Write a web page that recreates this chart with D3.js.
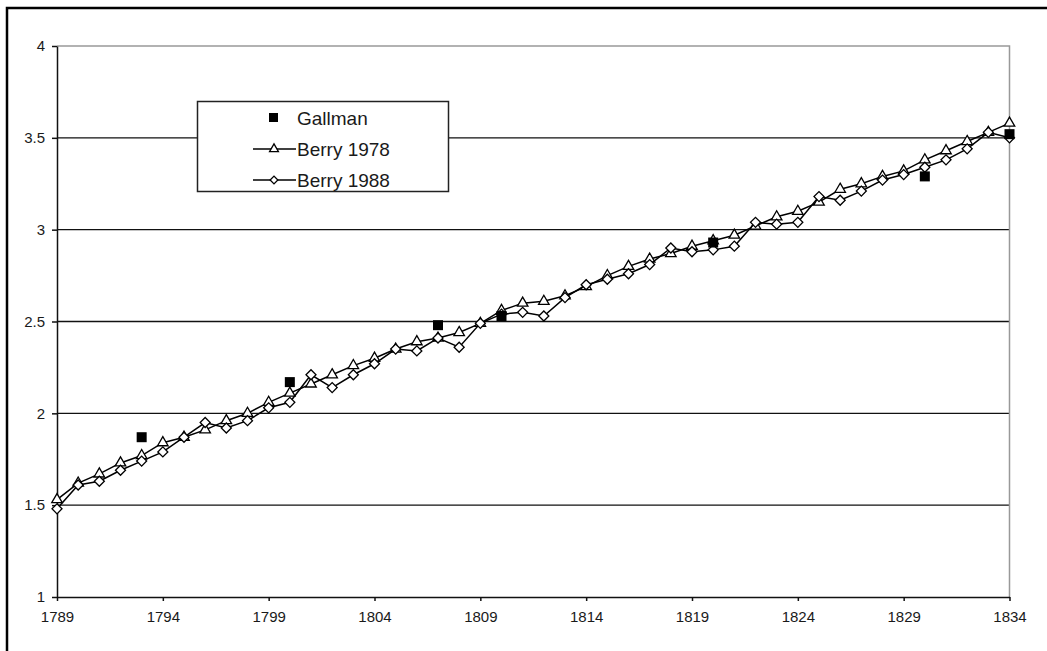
<!DOCTYPE html>
<meta charset="utf-8">
<style>
  body { margin: 0; background: #fff; }
  text { font-family: "Liberation Sans", Arial, sans-serif; fill: #1a1a1a; }
  .grid line { stroke: #111; stroke-width: 1.3px; }
  .axis path, .axis line { stroke: #111; stroke-width: 1.5px; }
  .legend text { font-size: 19px; }
</style>
<body>
<div id="chart"></div>
<script src="https://d3js.org/d3.v7.min.js"></script>
<script>

var years = d3.range(1789, 1835);

var berry1978 = [1.53, 1.62, 1.67, 1.73, 1.77, 1.84, 1.87, 1.91, 1.96, 2.00,
  2.06, 2.11, 2.16, 2.21, 2.26, 2.30, 2.35, 2.39, 2.41, 2.44,
  2.49, 2.56, 2.60, 2.61, 2.64, 2.69, 2.75, 2.80, 2.84, 2.87,
  2.91, 2.94, 2.97, 3.02, 3.07, 3.10, 3.15, 3.22, 3.25, 3.29,
  3.32, 3.38, 3.43, 3.48, 3.53, 3.58];

var berry1988 = [1.48, 1.61, 1.63, 1.69, 1.74, 1.79, 1.87, 1.95, 1.92, 1.96,
  2.03, 2.06, 2.21, 2.14, 2.21, 2.27, 2.35, 2.34, 2.41, 2.36,
  2.49, 2.54, 2.55, 2.53, 2.63, 2.70, 2.73, 2.76, 2.81, 2.90,
  2.88, 2.89, 2.91, 3.04, 3.03, 3.04, 3.18, 3.16, 3.21, 3.27,
  3.30, 3.34, 3.38, 3.44, 3.53, 3.50];

var gallmanYears = [1793, 1800, 1807, 1810, 1820, 1830, 1834];
var gallman = [1.87, 2.17, 2.48, 2.53, 2.93, 3.29, 3.52];

var xTicks = [1789, 1794, 1799, 1804, 1809, 1814, 1819, 1824, 1829, 1834];
var yTicks = [1, 1.5, 2, 2.5, 3, 3.5, 4];

var seriesNames = ["Gallman", "Berry 1978", "Berry 1988"];

var w = 1047, h = 651;

var svg = d3.select("#chart").append("svg")
  .attr("width", w)
  .attr("height", h);

// frame, only left and top are in the picture
svg.append("path")
  .attr("d", "M7,651V8H1047")
  .attr("fill", "none")
  .attr("stroke", "#000")
  .attr("stroke-width", 2.5);

var x = d3.scaleLinear().domain([1789, 1834]).range([57, 1009.5]);
var y = d3.scaleLinear().domain([1, 4]).range([597, 46]);

svg.append("g")
  .attr("class", "grid")
  .selectAll("line")
  .data(yTicks.slice(1, -1))
  .enter().append("line")
  .attr("x1", x(1789))
  .attr("x2", x(1834))
  .attr("y1", function (d) { return y(d); })
  .attr("y2", function (d) { return y(d); });

// plot area border (grey)
svg.append("path")
  .attr("d", "M" + x(1789) + "," + y(4) + "H" + x(1834) + "V" + y(1))
  .attr("fill", "none")
  .attr("stroke", "#999")
  .attr("stroke-width", 1.5);

svg.append("g")
  .attr("class", "axis")
  .attr("transform", "translate(0," + y(1) + ")")
  .call(d3.axisBottom(x).tickValues(xTicks).tickFormat(d3.format("d"))
    .tickSize(4).tickSizeOuter(0).tickPadding(10));

svg.append("g")
  .attr("class", "axis")
  .attr("transform", "translate(" + x(1789) + ",0)")
  .call(d3.axisLeft(y).tickValues(yTicks).tickFormat(d3.format("")).tickSize(5).tickSizeOuter(0).tickPadding(7));

svg.selectAll(".axis")
  .attr("font-size", 15)
  .attr("font-family", "Liberation Sans, Arial, sans-serif");

var line = d3.line()
  .x(function (d, i) { return x(years[i]); })
  .y(function (d) { return y(d); });

var tri = d3.symbol().type(d3.symbolTriangle).size(48);
var dia = d3.symbol().type(d3.symbolSquare).size(50);

function drawSeries(vals, sym, rot) {
  svg.append("path")
    .datum(vals)
    .attr("d", line)
    .attr("fill", "none")
    .attr("stroke", "#000")
    .attr("stroke-width", 1.5);
  svg.append("g").selectAll("path")
    .data(vals)
    .enter().append("path")
    .attr("d", sym)
    .attr("transform", function (d, i) {
      return "translate(" + x(years[i]) + "," + y(d) + ") rotate(" + rot + ")";
    })
    .attr("fill", "#fff")
    .attr("stroke", "#000")
    .attr("stroke-width", 1.3);
}

drawSeries(berry1978, tri, 0);
drawSeries(berry1988, dia, 45);

svg.append("g").selectAll("rect")
  .data(gallman)
  .enter().append("rect")
  .attr("x", function (d, i) { return x(gallmanYears[i]) - 5; })
  .attr("y", function (d) { return y(d) - 5; })
  .attr("width", 10)
  .attr("height", 10)
  .attr("fill", "#000");

// legend
var legend = svg.append("g").attr("class", "legend");
legend.append("rect")
  .attr("x", 197.5).attr("y", 101.5)
  .attr("width", 251).attr("height", 90)
  .attr("fill", "#fff")
  .attr("stroke", "#222")
  .attr("stroke-width", 1.5);

var rows = [117.5, 149, 180];
legend.append("rect")
  .attr("x", 269).attr("y", rows[0] - 4.5)
  .attr("width", 9).attr("height", 9)
  .attr("fill", "#000");

[1, 2].forEach(function (k) {
  legend.append("line")
    .attr("x1", 253).attr("x2", 296)
    .attr("y1", rows[k]).attr("y2", rows[k])
    .attr("stroke", "#000").attr("stroke-width", 1.5);
  legend.append("path")
    .attr("d", k === 1 ? d3.symbol().type(d3.symbolTriangle).size(34)() : d3.symbol().type(d3.symbolSquare).size(30)())
    .attr("transform", "translate(274," + rows[k] + ") rotate(" + (k === 1 ? 0 : 45) + ")")
    .attr("fill", "#fff").attr("stroke", "#000").attr("stroke-width", 1.3);
});

legend.selectAll("text")
  .data(seriesNames)
  .enter().append("text")
  .attr("x", 297)
  .attr("y", function (d, i) { return rows[i] + 7; })
  .text(function (d) { return d; });

</script>
</body>
